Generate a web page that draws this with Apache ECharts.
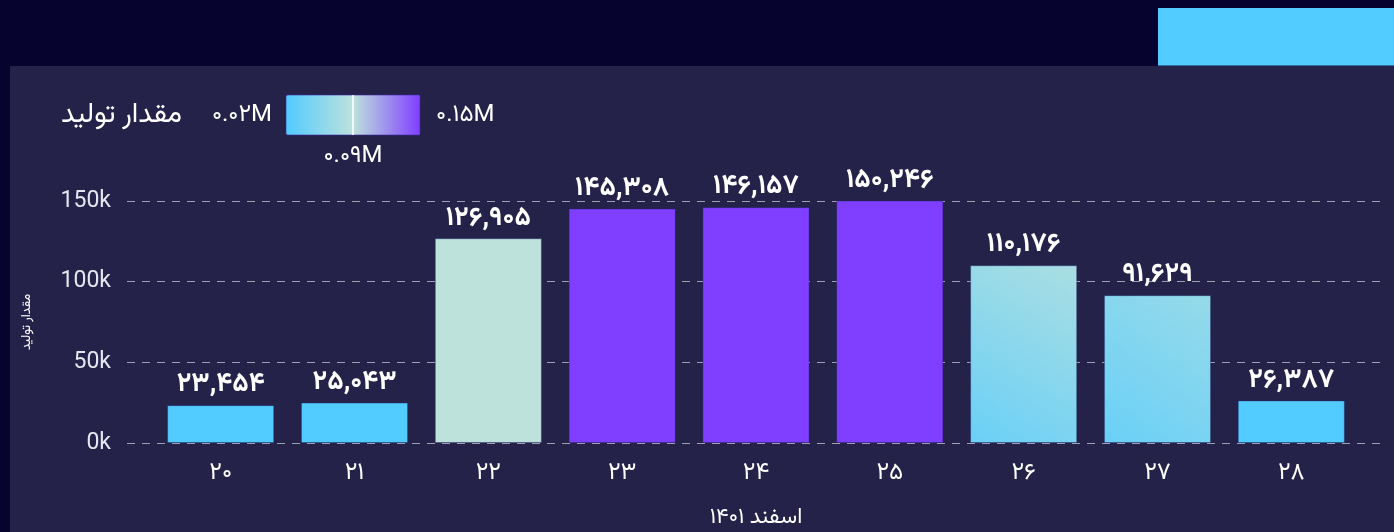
<!DOCTYPE html>
<html lang="fa">
<head>
<meta charset="utf-8">
<title>مقدار تولید - اسفند ۱۴۰۱</title>
<script src="https://cdn.jsdelivr.net/npm/echarts@6/dist/echarts.min.js"></script>
<style>
  html, body { margin: 0; padding: 0; width: 1394px; height: 532px; overflow: hidden; background: #06032f; }
  #badge { position: absolute; left: 1158px; top: 8px; width: 236px; height: 57px; background: #52cbff; border-bottom: 1px solid #2c6f9e; }
  #chart { position: absolute; left: 10px; top: 66px; width: 1384px; height: 466px; }
</style>
</head>
<body>
<div id="badge"></div>
<div id="chart"></div>
<script>
// Days of Esfand 1401 and the production amount for each day
const days = [20, 21, 22, 23, 24, 25, 26, 27, 28];
const production = [23454, 25043, 126905, 145308, 146157, 150246, 110176, 91629, 26387];
const yTicks = [0, 50000, 100000, 150000];
// Colour scale range (production) and the value marked on it
const scaleMin = 20000;
const scaleMax = 150000;
const scaleMark = 85000;

const FONT = 'Roboto, "Vazirmatn", "Noto Sans Arabic", "DejaVu Sans", sans-serif';
const CYAN = '#52cbff', MINT = '#bde2dc', VIOLET = '#803fff';

const FA_DIGITS = '۰۱۲۳۴۵۶۷۸۹';
function toFa(s) { return String(s).replace(/[0-9]/g, d => FA_DIGITS[+d]); }
function millions(v) { return toFa((v / 1e6).toFixed(2)) + 'M'; }

function hex(c) { return [1, 3, 5].map(i => parseInt(c.slice(i, i + 2), 16)); }
function mix(a, b, t) {
  const A = hex(a), B = hex(b);
  return 'rgb(' + A.map((x, i) => Math.round(x + (B[i] - x) * t)).join(',') + ')';
}
// Bar fill by amount: low days cyan, peak days violet, the rest fade towards mint
function barColor(v) {
  if (v >= 140000) return VIOLET;
  if (v <= 30000) return CYAN;
  if (v >= 120000) return MINT;
  const t = (v - 30000) / (127000 - 30000);
  return new echarts.graphic.LinearGradient(0, 1, 1, 0, [
    { offset: 0, color: mix(CYAN, MINT, 0.22) },
    { offset: 1, color: mix(CYAN, MINT, t) }
  ]);
}

// Gradient legend geometry (inside the chart box)
const VM_LEFT = 276, VM_TOP = 29, VM_LEN = 134, VM_THICK = 40;
const markX = VM_LEFT + VM_LEN * (scaleMark - scaleMin) / (scaleMax - scaleMin);

const chart = echarts.init(document.getElementById('chart'), null, { renderer: 'canvas' });
chart.setOption({
  backgroundColor: '#25224a',
  textStyle: { fontFamily: FONT },
  animation: false,
  grid: { left: 117, right: 9, top: 135, bottom: 89, outerBoundsMode: 'none', containLabel: false },
  xAxis: {
    type: 'value',
    min: days[0] - 0.7,
    max: days[days.length - 1] + 0.7,
    name: 'اسفند ' + toFa(1401),
    nameLocation: 'middle',
    nameGap: 63,
    nameMoveOverlap: false,
    nameTextStyle: { color: '#ffffff', fontSize: 22, fontFamily: FONT },
    axisLine: { show: false },
    axisTick: { show: false },
    splitLine: { show: false },
    axisLabel: {
      customValues: days,
      color: '#ffffff',
      fontSize: 24,
      margin: 18,
      fontFamily: FONT,
      formatter: v => toFa(v)
    }
  },
  yAxis: {
    type: 'value',
    min: yTicks[0],
    max: yTicks[yTicks.length - 1],
    interval: yTicks[1] - yTicks[0],
    name: 'مقدار تولید',
    nameLocation: 'middle',
    nameGap: 94,
    nameMoveOverlap: false,
    nameTextStyle: { color: '#ffffff', fontSize: 13, fontFamily: FONT },
    axisLine: { show: false },
    axisTick: { show: false },
    axisLabel: {
      color: '#e6e6ef',
      fontSize: 23,
      margin: 16,
      fontFamily: FONT,
      formatter: v => (v / 1000) + 'k'
    },
    splitLine: { lineStyle: { type: [8, 7], color: 'rgba(200,200,215,0.75)', width: 1 } }
  },
  visualMap: {
    type: 'continuous',
    orient: 'horizontal',
    seriesIndex: 1,
    min: scaleMin,
    max: scaleMax,
    left: VM_LEFT,
    top: VM_TOP,
    padding: 0,
    itemWidth: VM_THICK,
    itemHeight: VM_LEN,
    calculable: false,
    hoverLink: false,
    showLabel: false,
    text: null,
    inRange: { color: [CYAN, MINT, VIOLET] }
  },
  graphic: [
    { type: 'rect', silent: true, z: 100,
      shape: { x: VM_LEFT, y: VM_TOP, width: VM_LEN, height: VM_THICK },
      style: { fill: 'none', stroke: 'rgba(60,40,160,0.6)', lineWidth: 1 } },
    { type: 'line', silent: true, z: 101,
      shape: { x1: markX, y1: VM_TOP, x2: markX, y2: VM_TOP + VM_THICK },
      style: { stroke: '#ffffff', lineWidth: 1.5 } },
    { type: 'text', silent: true, z: 101, x: markX, y: VM_TOP + VM_THICK + 21,
      style: { text: millions(scaleMark), fill: '#ffffff', font: '24px ' + FONT, align: 'center', verticalAlign: 'middle' } },
    { type: 'text', silent: true, z: 101, x: VM_LEFT - 14, y: VM_TOP + VM_THICK / 2,
      style: { text: millions(scaleMin), fill: '#ffffff', font: '24px ' + FONT, align: 'right', verticalAlign: 'middle' } },
    { type: 'text', silent: true, z: 101, x: VM_LEFT + VM_LEN + 16, y: VM_TOP + VM_THICK / 2,
      style: { text: millions(scaleMax), fill: '#ffffff', font: '24px ' + FONT, align: 'left', verticalAlign: 'middle' } },
    { type: 'text', silent: true, z: 101, x: 172, y: VM_TOP + VM_THICK / 2,
      style: { text: 'مقدار تولید', fill: '#ffffff', font: '28px ' + FONT, align: 'right', verticalAlign: 'middle' } }
  ],
  series: [
    {
      type: 'bar',
      data: days.map((d, i) => [d, production[i]]),
      barCategoryGap: '20%',
      itemStyle: {
        color: p => barColor(p.value[1]),
        borderColor: 'rgba(30,40,110,0.35)',
        borderWidth: 1
      },
      label: {
        show: true,
        position: 'top',
        distance: 7,
        color: '#ffffff',
        fontSize: 27,
        fontWeight: 'bold',
        fontFamily: FONT,
        formatter: p => toFa(p.value[1].toLocaleString('en-US'))
      }
    },
    { type: 'line', data: [], silent: true }
  ]
});
</script>
</body>
</html>
